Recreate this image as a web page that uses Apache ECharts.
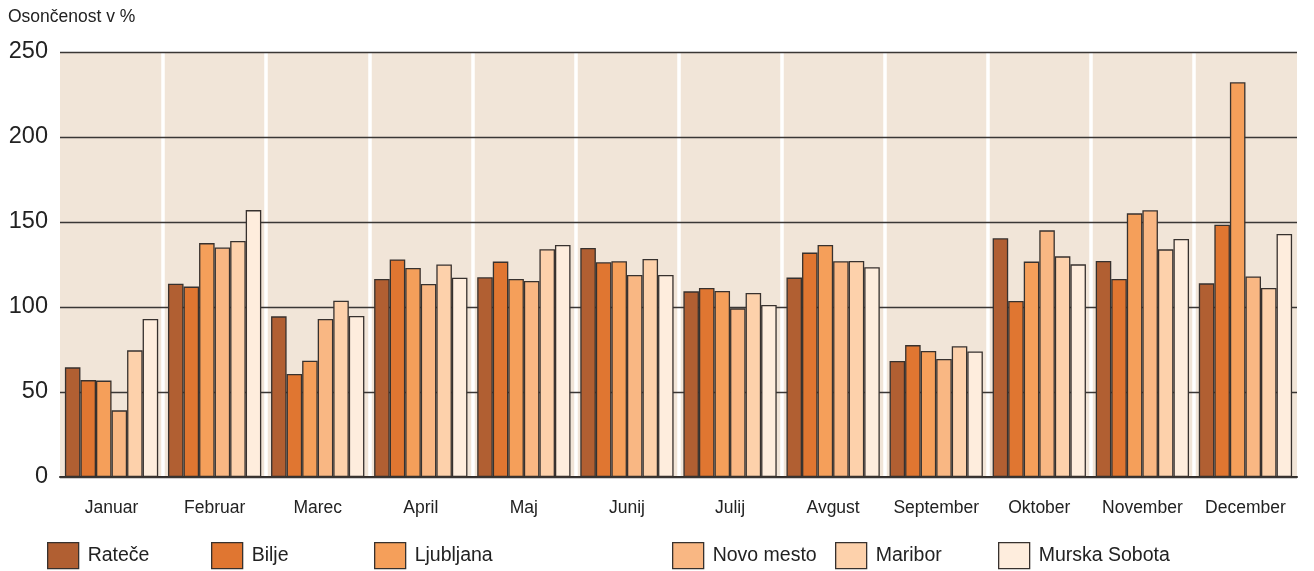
<!DOCTYPE html>
<html>
<head>
<meta charset="utf-8">
<script src="https://cdn.jsdelivr.net/npm/echarts@6/dist/echarts.min.js"></script>
<style>
  html, body { margin: 0; padding: 0; background: #ffffff; }
  #chart { width: 1314px; height: 571px; }
</style>
</head>
<body>
<div id="chart"></div>
<script>
// Mesečna osončenost po postajah (v % glede na povprečje)
const months = ['Januar', 'Februar', 'Marec', 'April', 'Maj', 'Junij', 'Julij', 'Avgust', 'September', 'Oktober', 'November', 'December'];
const yTicks = [0, 50, 100, 150, 200, 250];

const ratece       = [64.5, 113.7, 94.5, 116.5, 117.5, 134.7, 109.2, 117.3, 68.2, 140.4, 127.1, 113.9];
const bilje        = [57.0, 112.0, 60.6, 128.0, 126.7, 126.3, 111.2, 132.0, 77.6, 103.5, 116.5, 148.4];
const ljubljana    = [56.7, 137.6, 68.4, 123.0, 116.5, 126.9, 109.4, 136.5, 74.1, 126.7, 155.1, 232.2];
const novoMesto    = [39.2, 135.0, 93.0, 113.5, 115.3, 118.8, 99.2, 126.9, 69.4, 145.1, 156.9, 118.0];
const maribor      = [74.5, 138.8, 103.7, 125.0, 134.0, 128.2, 108.2, 127.1, 76.9, 129.8, 133.9, 111.2];
const murskaSobota = [93.0, 157.0, 94.7, 117.2, 136.5, 118.8, 101.2, 123.4, 73.8, 125.1, 140.0, 142.9];

const stations = [
  { name: 'Rateče',        data: ratece,       color: '#b15f32', legendLeft: 47 },
  { name: 'Bilje',         data: bilje,        color: '#e07631', legendLeft: 211 },
  { name: 'Ljubljana',     data: ljubljana,    color: '#f59f5a', legendLeft: 374 },
  { name: 'Novo mesto',    data: novoMesto,    color: '#f9b783', legendLeft: 672 },
  { name: 'Maribor',       data: maribor,      color: '#fdd1ab', legendLeft: 835 },
  { name: 'Murska Sobota', data: murskaSobota, color: '#feeddd', legendLeft: 998 }
];

const FONT = '"Liberation Sans", Arial, Helvetica, sans-serif';
const EDGE = '#37312e';

const chart = echarts.init(document.getElementById('chart'), null, { renderer: 'canvas' });

chart.setOption({
  animation: false,
  backgroundColor: '#ffffff',
  textStyle: { fontFamily: FONT },
  title: {
    text: 'Osončenost v %',
    left: 8,
    top: 8,
    padding: 0,
    textStyle: { fontFamily: FONT, fontSize: 17.5, fontWeight: 'normal', color: '#222222' }
  },
  legend: stations.map(s => ({
    data: [s.name],
    left: s.legendLeft,
    top: 542,
    padding: 0,
    itemWidth: 31,
    itemHeight: 26,
    icon: 'rect',
    selectedMode: false,
    itemStyle: { borderColor: EDGE, borderWidth: 1.3 },
    textStyle: { fontFamily: FONT, fontSize: 19.5, color: '#222222', padding: [0, 0, 0, 4] }
  })),
  grid: {
    left: 60,
    right: 17,
    top: 52,
    bottom: 94,
    show: true,
    backgroundColor: '#f1e5d8',
    borderWidth: 0
  },
  xAxis: {
    type: 'category',
    data: months,
    z: 0,
    axisLine: { show: true, lineStyle: { color: '#2e2a28', width: 2 } },
    axisTick: { show: false, interval: 0 },
    axisLabel: { interval: 0, fontFamily: FONT, fontSize: 17.5, color: '#222222', margin: 22 },
    splitLine: {
      show: true,
      interval: 0,
      showMinLine: false,
      showMaxLine: false,
      lineStyle: { color: '#ffffff', width: 3.5 }
    }
  },
  yAxis: {
    type: 'value',
    min: 0,
    max: 250,
    interval: 50,
    z: 1,
    axisLine: { show: false },
    axisTick: { show: false },
    axisLabel: {
      fontFamily: FONT, fontSize: 23.5, color: '#222222', margin: 12,
      formatter: v => (yTicks.indexOf(v) >= 0 ? String(v) : '')
    },
    splitLine: { show: true, lineStyle: { color: '#3a3735', width: 1.3 } }
  },
  series: stations.map(s => ({
    name: s.name,
    type: 'bar',
    data: s.data,
    barGap: '0%',
    barCategoryGap: '9.5%',
    z: 3,
    itemStyle: { color: s.color, borderColor: EDGE, borderWidth: 1.3 }
  }))
});
</script>
</body>
</html>
